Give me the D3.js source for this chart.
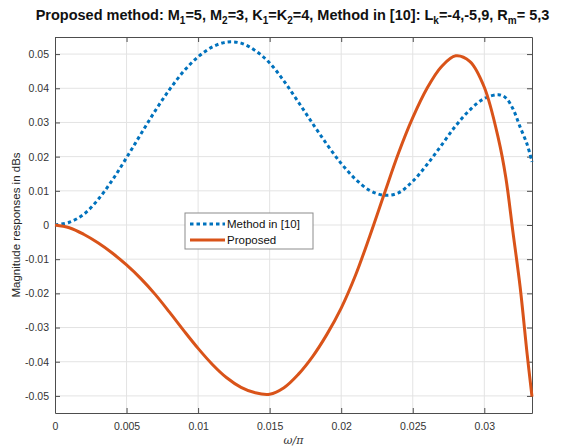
<!DOCTYPE html>
<html>
<head>
<meta charset="utf-8">
<script src="https://cdn.jsdelivr.net/npm/d3@7/dist/d3.min.js"></script>
<style>
  body { margin: 0; background: #fff; }
  svg { display: block; font-family: "Liberation Sans", Arial, sans-serif; }
</style>
</head>
<body>
<script>
'use strict';

// normalised frequency w/pi
var freq = [0, 0.001, 0.002, 0.003, 0.004, 0.005, 0.006, 0.007, 0.008, 0.009,
            0.010, 0.011, 0.012, 0.013, 0.014, 0.015, 0.016, 0.017, 0.018, 0.019,
            0.020, 0.021, 0.022, 0.023, 0.024, 0.025, 0.026, 0.027, 0.028, 0.029,
            0.030, 0.031, 0.0315, 0.032, 0.0325, 0.033, 1 / 30];

var method10 = [0, 0.0008, 0.0031, 0.0074, 0.0131, 0.0197, 0.0266, 0.0334, 0.0396, 0.0450,
                0.0492, 0.0521, 0.0535, 0.0532, 0.0510, 0.0474, 0.0421, 0.0360, 0.0297, 0.0236,
                0.0180, 0.0134, 0.0101, 0.0087, 0.0094, 0.0128, 0.0177, 0.0233, 0.0290, 0.0337,
                0.0370, 0.0381, 0.0372, 0.0340, 0.0287, 0.0235, 0.0185];

var proposed = [0, -0.0008, -0.0027, -0.0052, -0.0082, -0.0117, -0.0157, -0.0203, -0.0255, -0.0309,
                -0.0361, -0.0408, -0.0447, -0.0475, -0.0491, -0.0495, -0.0476, -0.0437, -0.0385, -0.0320,
                -0.0243, -0.0147, -0.0032, 0.0090, 0.0210, 0.0314, 0.0400, 0.0463, 0.0495, 0.0478,
                0.0403, 0.0250, 0.0140, -0.0020, -0.0180, -0.0380, -0.0502];

var xTicks = [0, 0.005, 0.01, 0.015, 0.02, 0.025, 0.03];
var yTicks = [-0.05, -0.04, -0.03, -0.02, -0.01, 0, 0.01, 0.02, 0.03, 0.04, 0.05];
var seriesNames = ['Method in [10]', 'Proposed'];

var W = 581, H = 448;
var m = { top: 37, right: 49, bottom: 35, left: 55 };
var iw = W - m.left - m.right, ih = H - m.top - m.bottom;
var axisColor = '#4d4d4d', textColor = '#333';

var svg = d3.select('body').append('svg').attr('width', W).attr('height', H);

var x = d3.scaleLinear().domain([0, 1 / 30]).range([0, iw]);
var y = d3.scaleLinear().domain([-0.055, 0.055]).range([ih, 0]);

var g = svg.append('g').attr('transform', 'translate(' + m.left + ',' + m.top + ')');

// grid
g.append('g').selectAll('line').data(xTicks.slice(1)).join('line')
  .attr('x1', x).attr('x2', x).attr('y1', 0).attr('y2', ih)
  .attr('stroke', '#e3e3e3').attr('stroke-width', 1);
g.append('g').selectAll('line').data(yTicks).join('line')
  .attr('y1', y).attr('y2', y).attr('x1', 0).attr('x2', iw)
  .attr('stroke', '#e3e3e3').attr('stroke-width', 1);

function fmt(d) { return d === 0 ? '0' : String(+d.toFixed(3)); }

// axes (inward ticks, box on all sides)
var ax = g.append('g').attr('transform', 'translate(0,' + ih + ')')
  .call(d3.axisBottom(x).tickValues(xTicks).tickFormat(fmt).tickSizeInner(-5).tickSizeOuter(0).tickPadding(10));
var axT = g.append('g')
  .call(d3.axisTop(x).tickValues(xTicks).tickFormat('').tickSizeInner(-5).tickSizeOuter(0));
var ay = g.append('g')
  .call(d3.axisLeft(y).tickValues(yTicks).tickFormat(fmt).tickSizeInner(-5).tickSizeOuter(0).tickPadding(6));
var ayR = g.append('g').attr('transform', 'translate(' + iw + ',0)')
  .call(d3.axisRight(y).tickValues(yTicks).tickFormat('').tickSizeInner(-5).tickSizeOuter(0));

[ax, axT, ay, ayR].forEach(function(a) {
  a.select('.domain').attr('stroke', axisColor);
  a.selectAll('.tick line').attr('stroke', axisColor);
  a.selectAll('.tick text').attr('fill', textColor)
    .style('font-size', '10.5px').style('font-family', '"Liberation Sans", Arial, sans-serif');
});

// curves
var line = d3.line().curve(d3.curveCatmullRom.alpha(0.5));

g.append('path')
  .datum(freq.map(function(f, i) { return [x(f), y(method10[i])]; }))
  .attr('d', line)
  .attr('fill', 'none').attr('stroke', '#0072bd').attr('stroke-width', 3)
  .attr('stroke-dasharray', '3.5,3');

g.append('path')
  .datum(freq.map(function(f, i) { return [x(f), y(proposed[i])]; }))
  .attr('d', line)
  .attr('fill', 'none').attr('stroke', '#d95319').attr('stroke-width', 3);

// labels
svg.append('text')
  .attr('transform', 'translate(20,' + (m.top + ih / 2) + ') rotate(-90)')
  .attr('text-anchor', 'middle').attr('fill', '#262626')
  .style('font-size', '11.5px')
  .text('Magnitude responses in dBs');

svg.append('text')
  .attr('x', m.left + iw / 2).attr('y', 444)
  .attr('text-anchor', 'middle').attr('fill', '#333')
  .style('font-family', '"DejaVu Serif", "Liberation Serif", serif')
  .style('font-style', 'italic').style('font-size', '11px')
  .text('\u03c9/\u03c0');

// title with subscripts
var parts = [['Proposed method: M'], ['1', 1], ['=5, M'], ['2', 1], ['=3, K'], ['1', 1], ['=K'], ['2', 1],
             ['=4, Method in [10]: L'], ['k', 1], ['=-4,-5,9, R'], ['m', 1], ['= 5,3']];
var title = svg.append('text')
  .attr('x', W / 2 + 2).attr('y', 20)
  .attr('text-anchor', 'middle').attr('fill', '#111')
  .style('font-weight', 'bold').style('font-size', '14.5px');
var down = false;
parts.forEach(function(p) {
  var t = title.append('tspan').text(p[0]);
  if (p[1]) { t.attr('dy', 4).style('font-size', '10px'); down = true; }
  else if (down) { t.attr('dy', -4); down = false; }
});

// legend
var lg = svg.append('g').attr('transform', 'translate(185,213)');
lg.append('rect').attr('width', 128).attr('height', 36)
  .attr('fill', '#fff').attr('stroke', '#8c8c8c').attr('stroke-width', 1);
var rows = lg.selectAll('g.row').data(seriesNames).join('g').attr('class', 'row')
  .attr('transform', function(d, i) { return 'translate(0,' + (11 + i * 16) + ')'; });
rows.append('line').attr('x1', 5).attr('x2', 40)
  .attr('stroke', function(d, i) { return i ? '#d95319' : '#0072bd'; })
  .attr('stroke-width', 3)
  .attr('stroke-dasharray', function(d, i) { return i ? null : '3.5,3'; });
rows.append('text').attr('x', 42).attr('dy', '0.35em')
  .attr('fill', '#111').style('font-size', '11.5px')
  .text(function(d) { return d; });
</script>
</body>
</html>
